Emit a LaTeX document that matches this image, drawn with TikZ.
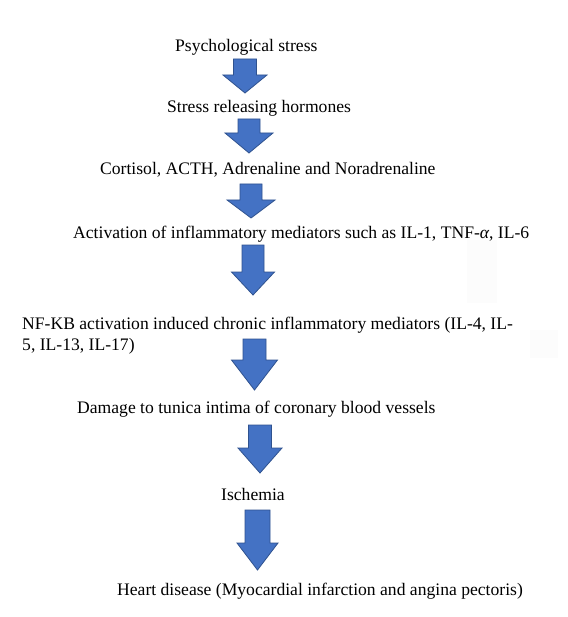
\documentclass[tikz,border=0pt]{standalone}
\usepackage{fontspec}
\setmainfont{Liberation Serif}
\definecolor{arrowfill}{HTML}{4472C4}
\definecolor{arrowedge}{HTML}{2F528F}
\tikzset{
  lbl/.style={anchor=base west, inner sep=0pt, font=\fontsize{17.6}{21}\selectfont},
  blockarrow/.style={fill=arrowfill, draw=arrowedge, line width=0.8pt, line join=miter},
  ghost/.style={fill=black!1.2, draw=none}
}
% #1 centre x, #2 top y, #3 neck y, #4 tip y, #5 shaft half width, #6 head half width
\newcommand\flowarrow[6]{%
  \draw[blockarrow] (#1-#5,#2) -- (#1+#5,#2) -- (#1+#5,#3) -- (#1+#6,#3)
    -- (#1,#4) -- (#1-#6,#3) -- (#1-#5,#3) -- cycle;}
\begin{document}
\begin{tikzpicture}[x=1pt,y=-1pt]
\useasboundingbox (0,0) rectangle (567,617);
\fill[white] (0,0) rectangle (567,617);
% faint artefacts
\fill[ghost] (467,240) rectangle (497,303);
\fill[ghost] (530,330) rectangle (558,358);

\node[lbl] (psy) at (175,52) {Psychological stress};
\node[lbl] (srh) at (167,113) {Stress releasing hormones};
\node[lbl] (cort) at (100,175) {Cortisol, ACTH, Adrenaline and Noradrenaline};
\node[lbl] (act) at (73,238) {Activation of inflammatory mediators such as IL-1, TNF-\textit{α}, IL-6};
\node[lbl] (nfa) at (22,329) {NF-KB activation induced chronic inflammatory mediators (IL-4, IL-};
\node[lbl] (nfb) at (22,350) {5, IL-13, IL-17)};
\node[lbl] (dmg) at (77,413) {Damage to tunica intima of coronary blood vessels};
\node[lbl] (isch) at (221,500) {Ischemia};
\node[lbl] (heart) at (117,595) {Heart disease (Myocardial infarction and angina pectoris)};

\flowarrow{245}{59}{75}{93}{11.5}{22}
\flowarrow{249}{119}{133}{153}{11}{24}
\flowarrow{251}{184}{200}{218}{11}{24}
\flowarrow{253}{245}{272}{295}{11}{21.5}
\flowarrow{254.5}{339}{360}{390}{11.5}{23}
\flowarrow{260}{425}{448}{473}{11.5}{22}
\flowarrow{257.5}{510}{543}{570}{12.5}{20.5}
\end{tikzpicture}
\end{document}
